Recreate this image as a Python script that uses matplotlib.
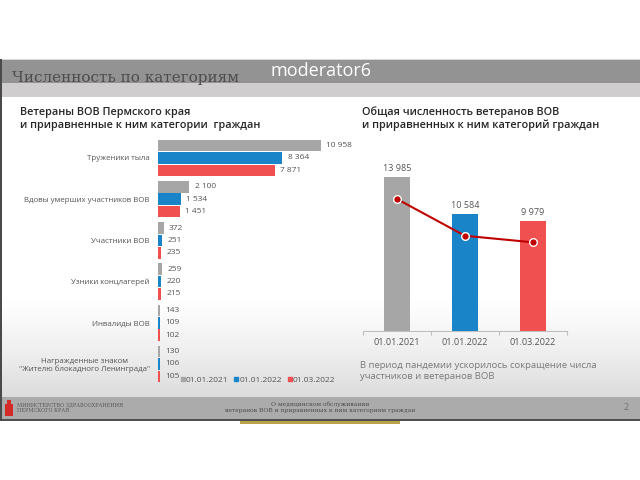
import matplotlib
matplotlib.use("Agg")
import matplotlib.pyplot as plt
import numpy as np
from matplotlib.patches import Rectangle
from matplotlib.lines import Line2D

plt.rcParams['font.family'] = ['Open Sans', 'DejaVu Sans']

# ---------------- data ----------------
categories = ["Труженики тыла", "Вдовы умерших участников ВОВ", "Участники ВОВ",
              "Узники концлагерей", "Инвалиды ВОВ",
              "Награжденные знаком\n\"Жителю блокадного Ленинграда\""]
dates = ["01.01.2021", "01.01.2022", "01.03.2022"]
v2021 = [10958, 2100, 372, 259, 143, 130]
v2022 = [8364, 1534, 251, 220, 109, 106]
v2022m = [7871, 1451, 235, 215, 102, 105]
totals = [13985, 10584, 9979]

GRAY = "#a6a6a6"
BLUE = "#1984c7"
RED = "#f05050"
DARKRED = "#c00000"
TXT = "#555555"

W, H = 640, 480
def fx(x): return x / W
def fy(y): return 1 - y / H

def fmt(v):
    return f"{v:,}".replace(",", " ")

fig = plt.figure(figsize=(6.4, 4.8), dpi=100)
fig.patch.set_facecolor("white")

def rect(x0, y0, x1, y1, color, z=0):
    fig.add_artist(Rectangle((fx(x0), fy(y1)), (x1 - x0) / W, (y1 - y0) / H,
                             transform=fig.transFigure, facecolor=color,
                             edgecolor="none", zorder=z))

# background gradient in content area
gax = fig.add_axes([0, fy(397), 1, (397 - 97) / H], zorder=-5)
t = np.linspace(0, 1, 300)
vals = np.where(t < 0.65, 1.0, 1.0 - 0.14 * ((t - 0.65) / 0.35) ** 1.3)
grad = vals[:, None] * np.ones((1, 2))
gax.imshow(grad, aspect="auto", cmap="gray", vmin=0, vmax=1, extent=[0, 1, 0, 1])
gax.axis("off")

# header bars
rect(0, 59, 640, 83, "#939393", 1)
rect(0, 83, 640, 97, "#cfcdcd", 1)
rect(0, 58.5, 640, 59.5, "#d8d8d8", 1)
# footer
rect(0, 397, 640, 419, "#ababab", 1)
rect(0, 419, 640, 421, "#505050", 1)
rect(240, 421, 400, 424, "#b9a24a", 1)
rect(0, 59, 2, 421, "#4a4a4a", 2)
# logo
rect(5, 404, 13, 416, "#d42a2a", 3)
rect(7, 400, 11, 404, "#d42a2a", 3)

fig.text(fx(321), fy(71), "moderator6", color="white", fontsize=13,
         ha="center", va="center", zorder=5)
fig.text(fx(12), fy(78), "Численность по категориям", color="#4d4d4d",
         fontsize=11, family="DejaVu Serif", ha="left", va="center", zorder=5)

fig.text(fx(20), fy(119), "Ветераны ВОВ Пермского края\nи приравненные к ним категории  граждан",
         color="#262626", fontsize=7.8, fontweight="semibold", ha="left", va="center",
         linespacing=1.2, zorder=5)
fig.text(fx(362), fy(119), "Общая численность ветеранов ВОВ\nи приравненных к ним категорий граждан",
         color="#262626", fontsize=7.8, fontweight="semibold", ha="left", va="center",
         linespacing=1.2, zorder=5)

fig.text(fx(360), fy(371), "В период пандемии ускорилось сокращение числа\nучастников и ветеранов ВОВ",
         color="#7a7a7a", fontsize=6.8, ha="left", va="center", linespacing=1.3, zorder=5)

# footer texts
fig.text(fx(17), fy(407.5), "МИНИСТЕРСТВО ЗДРАВООХРАНЕНИЯ\nПЕРМСКОГО КРАЯ", color="#5a5a5a",
         fontsize=3.6, family="DejaVu Serif", ha="left", va="center", linespacing=1.2, zorder=5)
fig.text(fx(320), fy(407.5), "О медицинском обслуживании\nветеранов ВОВ и приравненных к ним категориям граждан",
         color="#4a4a4a", fontsize=4.3, family="DejaVu Serif", ha="center", va="center",
         linespacing=1.3, zorder=5)
fig.text(fx(626), fy(408), "2", color="#707070", fontsize=6.5, ha="center", va="center", zorder=5)

# ---------------- left chart ----------------
ax1 = fig.add_axes([fx(158), fy(388), 200 / W, (388 - 135) / H], zorder=3)
ax1.patch.set_alpha(0)
y = np.arange(len(categories))
bh = 0.28
off = 0.30
for vals_, c, o in [(v2021, GRAY, -off), (v2022, BLUE, 0), (v2022m, RED, off)]:
    ax1.barh(y + o, vals_, height=bh, color=c, zorder=3)
    for yi, v in zip(y, vals_):
        ax1.annotate(fmt(v), (v, yi + o), xytext=(4, 0), textcoords="offset points",
                     ha="left", va="center", fontsize=6, color=TXT)
for yi in y:
    ax1.plot([-60, -60], [yi - 0.47, yi + 0.47], color="#d5d5d5", lw=1.5, zorder=2,
             solid_capstyle="butt")
ax1.set_xlim(0, 200 / 0.01485)
ax1.set_ylim(5.583, -0.558)
ax1.set_yticks(y)
ax1.set_yticklabels(categories, fontsize=5.7, color=TXT, multialignment="center")
ax1.tick_params(axis="y", length=0, pad=6)
ax1.set_xticks([])
for s in ax1.spines.values():
    s.set_visible(False)

handles = [Line2D([], [], marker="s", linestyle="none", markersize=3, color=c)
           for c in (GRAY, BLUE, RED)]
fig.legend(handles, dates, loc="center left", bbox_to_anchor=(fx(181), fy(380)), ncol=3,
           frameon=False, fontsize=6, labelcolor=TXT, handlelength=0.5,
           handletextpad=0.1, columnspacing=0.7, borderpad=0, borderaxespad=0)

# ---------------- right chart ----------------
ax2 = fig.add_axes([fx(363), fy(331), 204 / W, 170 / H], zorder=3)
ax2.patch.set_alpha(0)
x = np.arange(len(dates))
ax2.bar(x, totals, width=0.38, color=[GRAY, BLUE, RED], zorder=3)
for xi, v in zip(x, totals):
    ax2.annotate(fmt(v), (xi, v), xytext=(0, 6), textcoords="offset points",
                 ha="center", va="center", fontsize=6.5, color=TXT)
ax2.set_xlim(-0.5, 2.5)
ax2.set_ylim(0, 170 / 0.01103)
ax2.set_yticks([])
ax2.set_xticks(x)
ax2.set_xticklabels(dates, fontsize=6.5, color=TXT)
ax2.set_xticks([-0.5, 0.5, 1.5, 2.5], minor=True)
ax2.tick_params(axis="x", which="major", length=0, pad=5)
ax2.tick_params(axis="x", which="minor", length=3, color="#bfbfbf", width=0.8)
for k in ("top", "right", "left"):
    ax2.spines[k].set_visible(False)
ax2.spines["bottom"].set_color("#bfbfbf")
ax2.spines["bottom"].set_linewidth(0.8)

ax3 = ax2.twinx()
ax3.plot(x, totals, color=DARKRED, lw=1.5, marker="o", markersize=5.5,
         markerfacecolor=DARKRED, markeredgecolor="white", markeredgewidth=1, zorder=5)
ax3.set_ylim(1776, 17502)
ax3.axis("off")

fig.savefig("out.png", dpi=100)
